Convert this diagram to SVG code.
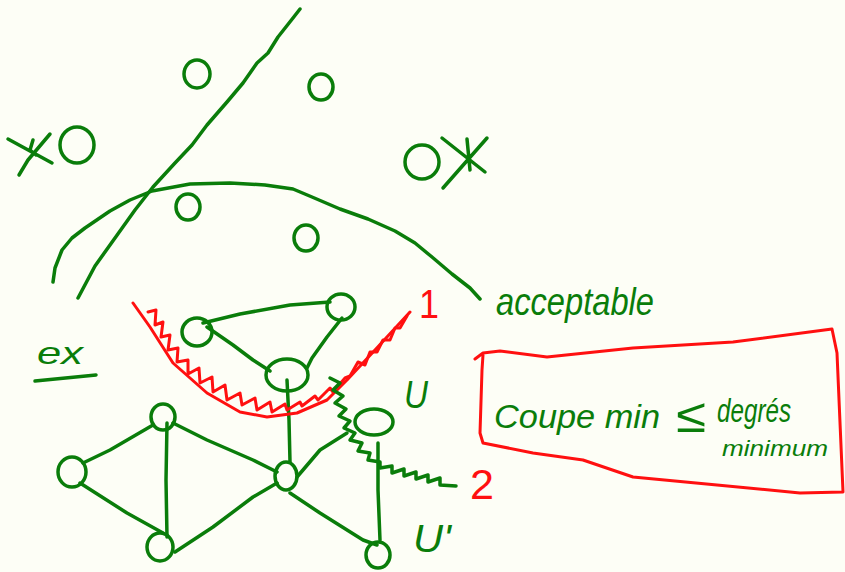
<svg xmlns="http://www.w3.org/2000/svg" width="845" height="572" viewBox="0 0 845 572">
  <style>
    .g { fill: none; stroke: #0a7d0a; stroke-width: 3.5; stroke-linecap: round; stroke-linejoin: round; }
    .r { fill: none; stroke: #ff1010; stroke-width: 3; stroke-linecap: round; stroke-linejoin: round; }
    .tg { fill: #0a7d0a; font-family: "Liberation Sans", "DejaVu Sans", sans-serif; font-style: italic; }
    .tr { fill: #ff1010; font-family: "Liberation Sans", "DejaVu Sans", sans-serif; }
  </style>
  <rect width="845" height="572" fill="#fdfef6"/>

  <!-- separating line and acceptable region boundary -->
  <g id="boundaries">
    <path class="g" d="M300,9 L293,18 L278,37 L268,53 L257,63 L243,83 L227,102 L207,125 L192,145 L175,163 L153,187 L135,210 L115,238 L95,266 L78,298"/>
    <path class="g" d="M53,282 L55,268 L62,250 L72,238 L85,228 L110,211 L130,200 L152,191 L190,184 L230,183 L265,185 L293,189 L312,197 L340,209 L368,219 L395,231 L415,243 L432,257 L452,274 L470,288 L480,299"/>
  </g>

  <!-- scattered sample points -->
  <g id="samples">
    <ellipse class="g" cx="197" cy="74" rx="13" ry="14"/>
    <ellipse class="g" cx="321" cy="87" rx="12" ry="13"/>
    <ellipse class="g" cx="77" cy="145" rx="17" ry="18"/>
    <ellipse class="g" cx="422" cy="162" rx="17" ry="17"/>
    <ellipse class="g" cx="188" cy="207" rx="12" ry="13"/>
    <ellipse class="g" cx="306" cy="238" rx="12" ry="13"/>
  </g>

  <!-- star marks -->
  <g id="stars">
    <path class="g" d="M8,139 L52,163 M19,175 L28,160 L50,134 M33,140 L30,150 L36,155"/>
    <path class="g" d="M442,138 L485,172 M443,188 L487,138 M467,139 L470,170"/>
  </g>

  <!-- example label -->
  <g id="label-ex">
    <text class="tg" x="37" y="364" font-size="32" textLength="46" lengthAdjust="spacingAndGlyphs">ex</text>
    <path class="g" d="M35,381 L96,375"/>
  </g>

  <!-- graph edges -->
  <g id="connectors">
    <path class="g" d="M203,323 L240,314 L290,305 L330,302"/>
    <path class="g" d="M207,327 L233,345 L253,360 L270,371"/>
    <path class="g" d="M342,318 L327,337 L312,358 L307,368"/>
    <path class="g" d="M287,380 L289,420 L290,462"/>
    <path class="g" d="M83,463 L110,450 L153,425"/>
    <path class="g" d="M167,423 L166,480 L167,537"/>
    <path class="g" d="M173,423 L207,440 L253,460 L277,472"/>
    <path class="g" d="M80,483 L127,513 L163,533"/>
    <path class="g" d="M175,552 L213,527 L253,497 L277,483"/>
    <path class="g" d="M297,477 L320,450 L347,433"/>
    <path class="g" d="M290,493 L320,513 L363,540 L377,545"/>
    <path class="g" d="M378,443 L378,490 L380,540"/>
  </g>

  <!-- graph nodes -->
  <g id="node-a"><ellipse class="g" cx="197" cy="332" rx="15" ry="14"/></g>
  <g id="node-b"><ellipse class="g" cx="341" cy="307" rx="14" ry="13"/></g>
  <g id="node-c"><ellipse class="g" cx="287" cy="375" rx="21" ry="16"/></g>
  <g id="node-d"><ellipse class="g" cx="163" cy="417" rx="12" ry="13"/></g>
  <g id="node-e"><ellipse class="g" cx="72" cy="472" rx="14" ry="15"/></g>
  <g id="node-f"><ellipse class="g" cx="160" cy="547" rx="13" ry="14"/></g>
  <g id="node-g"><ellipse class="g" cx="286" cy="476" rx="11" ry="14"/></g>
  <g id="node-h"><ellipse class="g" cx="374" cy="422" rx="19" ry="13"/></g>
  <g id="node-i"><ellipse class="g" cx="378" cy="555" rx="12" ry="13"/></g>

  <!-- cut 1 (red, hatched) -->
  <g id="cut-1">
    <path class="r" d="M133,303 L150,327 L173,363 L207,393 L240,412 L267,417 L297,413 L327,400 L347,380 L375,350 L410,312"/>
    <path class="r" d="M148,312 L156,310 L155,325 L163,322 L161,337 L170,335 L168,350 L178,348 L177,362 L188,360 L188,374 L199,368 L200,383 L212,377 L213,392 L225,385 L227,400 L240,393 L242,405 L255,398 L257,410 L270,402 L272,412 L285,404 L287,410 L300,402 L302,406 L315,396 L318,400 L330,388 L333,392 L345,378 L350,376 L358,362 L365,365 L370,352 L377,352 L383,340 L390,340 L395,328 L400,328 L407,316"/>
    <text class="tr" x="419" y="318" font-size="40" textLength="20" lengthAdjust="spacingAndGlyphs">1</text>
  </g>

  <!-- cut 2 (green, hatched) -->
  <g id="cut-2">
    <path class="g" stroke-width="3" d="M330,378 L340,383 L333,390 L343,396 L335,403 L346,409 L339,416 L350,421 L344,428 L355,433 L350,440 L362,443 L358,451 L370,453 L368,460 L380,462 L380,468 L392,466 L392,473 L404,469 L404,476 L416,472 L416,479 L428,475 L428,482 L440,478 L440,485 L456,486"/>
    <text class="tr" x="470" y="499" font-size="42" textLength="24" lengthAdjust="spacingAndGlyphs">2</text>
  </g>

  <!-- side labels -->
  <g id="label-u"><text class="tg" x="404" y="408" font-size="38" textLength="24" lengthAdjust="spacingAndGlyphs">U</text></g>
  <g id="label-u-prime"><text class="tg" x="413" y="552" font-size="38" textLength="38" lengthAdjust="spacingAndGlyphs">U'</text></g>
  <g id="label-acceptable"><text class="tg" x="496" y="315" font-size="38" textLength="158" lengthAdjust="spacingAndGlyphs">acceptable</text></g>

  <!-- boxed statement -->
  <g id="statement">
    <path class="r" d="M475,359 L483,353 L500,351 L547,357 L633,348 L733,342 L832,329 L837,353 L843,492 L800,493 L717,485 L633,477 L583,460 L533,453 L483,443 L480,433 L482,370 L483,355"/>
    <text class="tg" x="494" y="428" font-size="34" textLength="166" lengthAdjust="spacingAndGlyphs">Coupe min</text>
    <text class="tg" x="676" y="432" font-size="48" textLength="30" lengthAdjust="spacingAndGlyphs">≤</text>
    <text class="tg" x="717" y="422" font-size="33" textLength="74" lengthAdjust="spacingAndGlyphs">degrés</text>
    <text class="tg" x="722" y="456" font-size="22" textLength="106" lengthAdjust="spacingAndGlyphs">minimum</text>
  </g>
</svg>
